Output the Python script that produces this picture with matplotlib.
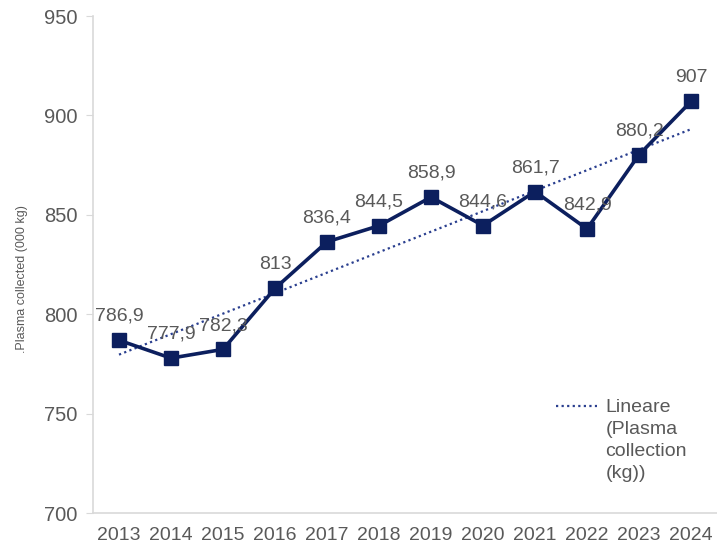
import numpy as np
import matplotlib
matplotlib.use("Agg")
import matplotlib.pyplot as plt
from matplotlib.legend_handler import HandlerLine2D

years = ["2013", "2014", "2015", "2016", "2017", "2018", "2019", "2020", "2021", "2022", "2023", "2024"]
values = [786.9, 777.9, 782.3, 813.0, 836.4, 844.5, 858.9, 844.6, 861.7, 842.9, 880.2, 907.0]
labels = ["786,9", "777,9", "782,3", "813", "836,4", "844,5", "858,9", "844,6", "861,7", "842,9", "880,2", "907"]
yticks = [700, 750, 800, 850, 900, 950]

plt.rcParams['font.family'] = ['Liberation Sans', 'DejaVu Sans']
navy = '#0c1f5e'
grey = '#595959'
spine = '#d9d9d9'


class TopHandler(HandlerLine2D):
    def __init__(self, shift, **kw):
        super().__init__(**kw)
        self.shift = shift

    def create_artists(self, legend, orig_handle, xdescent, ydescent, width, height, fontsize, trans):
        arts = super().create_artists(legend, orig_handle, xdescent, ydescent, width, height, fontsize, trans)
        for a in arts:
            yd = a.get_ydata()
            a.set_ydata(np.asarray(yd) + self.shift)
        return arts


fig = plt.figure(figsize=(7.17, 5.48), dpi=100)
ax = fig.add_axes([93/717, 1-513/548, 1-93/717, (513-16)/548])

x = np.arange(len(years))
ax.plot(x, values, color=navy, lw=2.6, marker='s', ms=10, zorder=3)

coef = np.polyfit(x, values, 1)
trend = np.polyval(coef, x)
tline, = ax.plot(x, trend, color='#2a3f8f', lw=1.6, ls=(0, (1, 1.5)), zorder=2,
                 label="Lineare\n(Plasma\ncollection\n(kg))")

for xi, v, lab in zip(x, values, labels):
    ax.annotate(lab, (xi, v), xytext=(0, 11), textcoords='offset points',
                ha='center', va='bottom', fontsize=14, color=grey, zorder=4)

ax.set_xlim(-0.5, len(years) - 0.5)
ax.set_ylim(700, 950)
ax.set_yticks(yticks)
ax.set_xticks(x)
ax.set_xticklabels(years)
ax.tick_params(axis='y', colors=spine, labelcolor=grey, labelsize=14.5, length=5, pad=6)
ax.tick_params(axis='x', length=0, labelcolor=grey, labelsize=14, pad=10)
for s in ['top', 'right']:
    ax.spines[s].set_visible(False)
for s in ['left', 'bottom']:
    ax.spines[s].set_color(spine)
    ax.spines[s].set_linewidth(1.2)

leg = ax.legend(loc='upper left', frameon=False, fontsize=14, handlelength=2.1,
                handletextpad=0.45, labelspacing=0.3, borderaxespad=0, borderpad=0,
                handler_map={tline: TopHandler(shift=24.5)})
leg.set_bbox_to_anchor(((556-93)/624, 1 - (399-16)/497), transform=ax.transAxes)
for t in leg.get_texts():
    t.set_color(grey)
    t.set_linespacing(1.38)

fig.text(22/717, 1-279/548, ".Plasma collected (000 kg)", rotation=90, ha='center', va='center',
         fontsize=9, color=grey)

fig.savefig("out.png", dpi=100)
